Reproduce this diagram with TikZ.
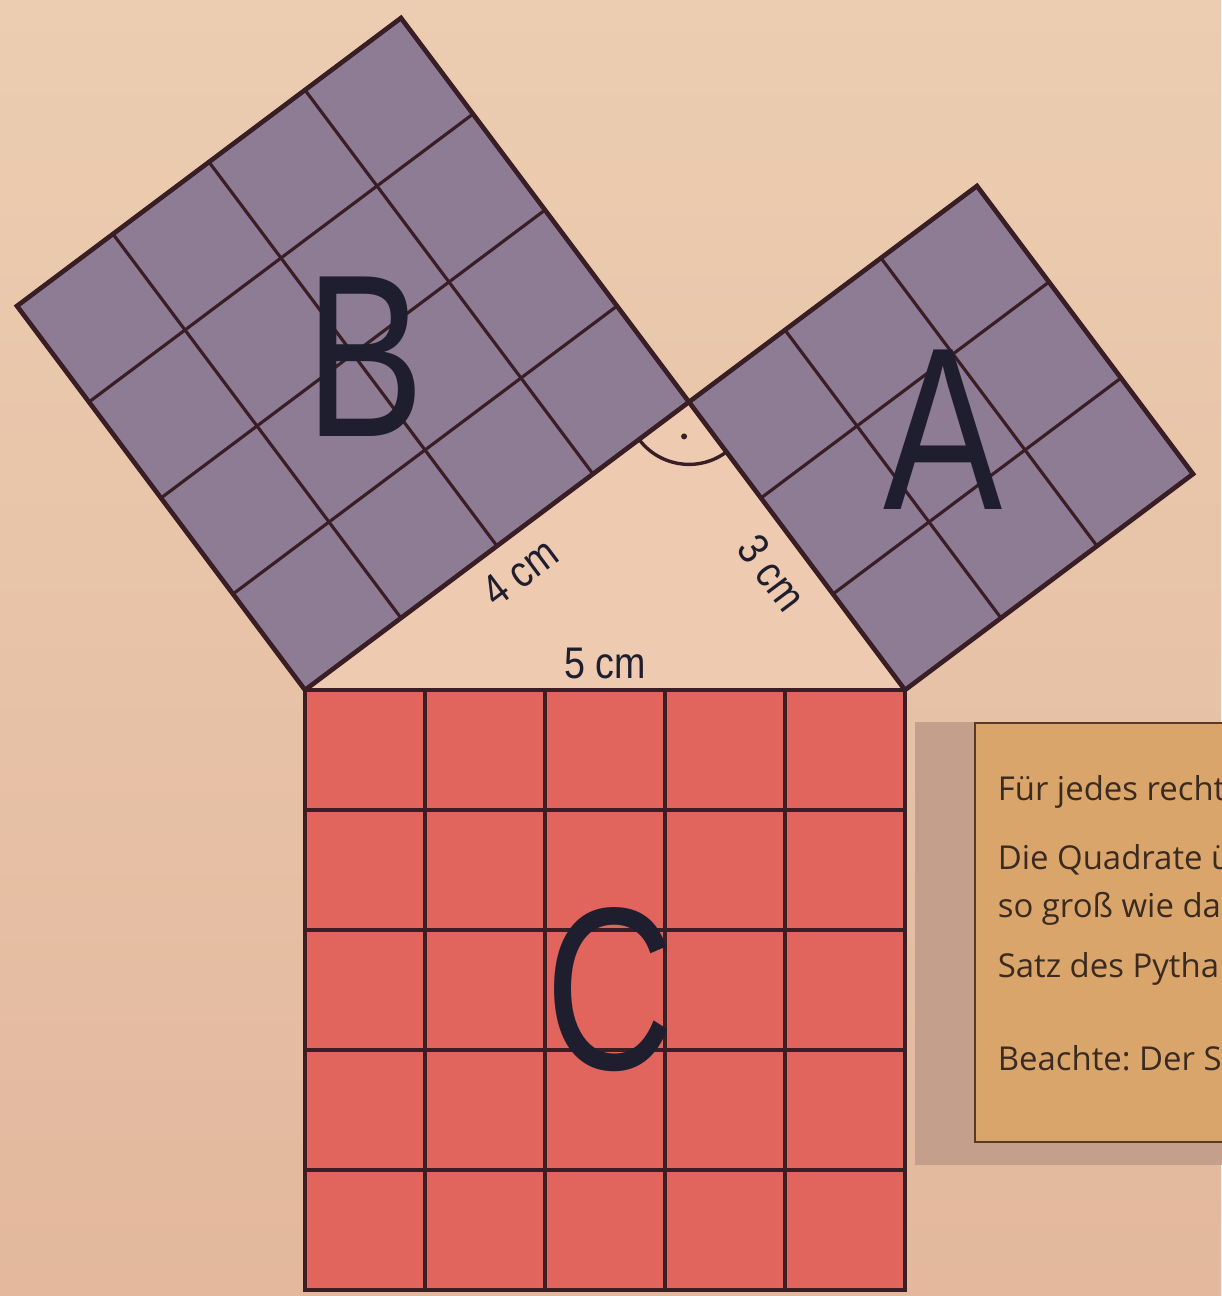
\documentclass[tikz,border=0pt]{standalone}
\usepackage{fontspec}
\usetikzlibrary{calc}
\setmainfont{Liberation Sans}
\newfontfamily\boxfont{Open Sans}
\frenchspacing
\begin{document}
\begin{tikzpicture}[x=1cm,y=1cm,
  outline/.style={draw=linedark,line width=1.1pt,line join=miter},
  gridline/.style={draw=linedark,line width=0.75pt},
  biglabel/.style={text=labelink,font=\fontsize{55}{55}\selectfont,xscale=0.77,inner sep=0pt},
  cmlabel/.style={text=labelink,font=\fontsize{10.5}{10.5}\selectfont,inner sep=0pt},
  boxtext/.style={text=boxink,font=\boxfont\fontsize{7.8}{8}\selectfont,anchor=base west,inner sep=0pt}]
\definecolor{bgpaper}{HTML}{E3B89D}
\definecolor{bgtop}{HTML}{ECCDB1}
\definecolor{tri}{HTML}{EDCAB0}
\definecolor{purp}{HTML}{8E7C95}
\definecolor{salmon}{HTML}{E2655D}
\definecolor{linedark}{HTML}{3A1E26}
\definecolor{labelink}{HTML}{1E1E2E}
\definecolor{panel}{HTML}{C49F8C}
\definecolor{gold}{HTML}{D9A56B}
\definecolor{boxline}{HTML}{5A3A22}
\definecolor{boxink}{HTML}{3A2A20}
% canvas
\useasboundingbox (-2.54167,-5.05) rectangle (7.63333,5.75);
\shade[top color=bgtop,bottom color=bgpaper] (-2.54167,-5.05) rectangle (7.63333,5.75);
% key points
\coordinate (P) at (0,0);
\coordinate (Q) at (5,0);
\coordinate (R) at (3.2,2.4);
\coordinate (B3) at (0.8,5.6);
\coordinate (B4) at (-2.4,3.2);
\coordinate (A3) at (7.4,1.8);
\coordinate (A4) at (5.6,4.2);
\coordinate (C3) at (5,-5);
\coordinate (C4) at (0,-5);
% triangle
\fill[tri] (P) -- (R) -- (Q) -- cycle;
% square B
\fill[purp] (P) -- (R) -- (B3) -- (B4) -- cycle;
\foreach \k in {1,2,3}{
  \draw[gridline] ({-0.6*\k},{0.8*\k}) -- ({3.2-0.6*\k},{2.4+0.8*\k});
  \draw[gridline] ({0.8*\k},{0.6*\k}) -- ({0.8*\k-2.4},{0.6*\k+3.2});
}
\draw[outline] (P) -- (R) -- (B3) -- (B4) -- cycle;
% square A
\fill[purp] (R) -- (Q) -- (A3) -- (A4) -- cycle;
\foreach \k in {1,2}{
  \draw[gridline] ({3.2+0.8*\k},{2.4+0.6*\k}) -- ({5+0.8*\k},{0.6*\k});
  \draw[gridline] ({3.2+0.6*\k},{2.4-0.8*\k}) -- ({5.6+0.6*\k},{4.2-0.8*\k});
}
\draw[outline] (R) -- (Q) -- (A3) -- (A4) -- cycle;
% square C
\fill[salmon] (P) -- (Q) -- (C3) -- (C4) -- cycle;
\foreach \k in {1,2,3,4}{
  \draw[gridline] (\k,0) -- (\k,-5);
  \draw[gridline] (0,-\k) -- (5,-\k);
}
\draw[outline] (P) -- (Q) -- (C3) -- (C4) -- cycle;
% right angle mark
\draw[linedark,line width=0.8pt] ($(R)+(216.87:0.52)$) arc[start angle=216.87,end angle=306.87,radius=0.52];
\fill[linedark] ($(R)+(261.87:0.29)$) circle[radius=0.025];
% labels
\node[biglabel] (labB) at (0.50,2.775) {B};
\node[biglabel] (labA) at (5.32,2.17) {A};
\node[biglabel] (labC) at (2.54,-2.5) {C};
\node[cmlabel,rotate=36.87,xscale=0.85] (l4) at (1.79,0.98) {4 cm};
\node[cmlabel,rotate=-53.13,xscale=0.85] (l3) at (3.89,0.975) {3 cm};
\node[cmlabel,xscale=0.85] (l5) at (2.5,0.225) {5 cm};
% text box (cut off at right edge)
\fill[panel] (5.0833,-0.2667) rectangle (7.7,-3.9583);
\fill[gold] (5.5833,-0.275) rectangle (7.8,-3.7667);
\draw[boxline,line width=0.7pt] (7.8,-0.275) -- (5.5833,-0.275) -- (5.5833,-3.7667) -- (7.8,-3.7667);
\node[boxtext] (t1) at (5.7667,-0.9167) {Für jedes recht};
\node[boxtext] (t2) at (5.7667,-1.5) {Die Quadrate ü};
\node[boxtext] (t3) at (5.7667,-1.8917) {so groß wie da};
\node[boxtext] (t4) at (5.7667,-2.3917) {Satz des Pytha};
\node[boxtext] (t5) at (5.7667,-3.1667) {Beachte: Der S};
\end{tikzpicture}
\end{document}
